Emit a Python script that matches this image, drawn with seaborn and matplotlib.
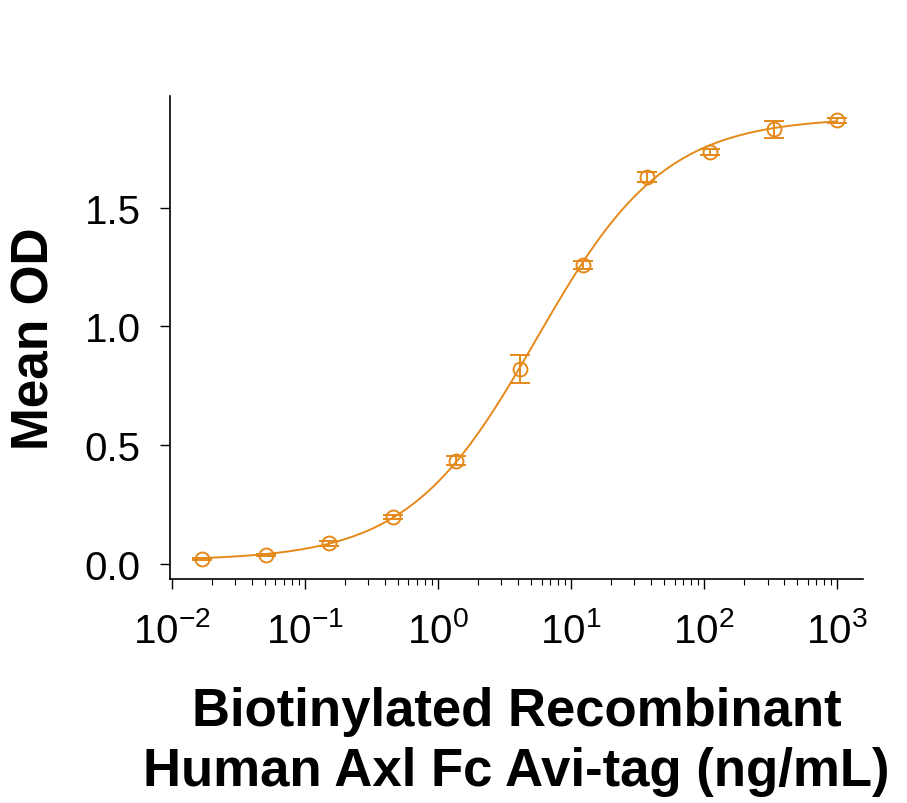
import numpy as np
import pandas as pd
import matplotlib
matplotlib.use('Agg')
import matplotlib.pyplot as plt
import matplotlib.ticker as mticker
import seaborn as sns

# concentrations (ng/mL), mean OD and error
conc = [0.0169, 0.0508, 0.152, 0.457, 1.37, 4.12, 12.3, 37.0, 111.0, 333.0, 1000.0]
mean_od = [0.020, 0.038, 0.087, 0.197, 0.435, 0.820, 1.258, 1.629, 1.735, 1.829, 1.868]
err_od = [0.005, 0.005, 0.010, 0.008, 0.020, 0.058, 0.018, 0.020, 0.012, 0.035, 0.010]

x_ticks = [1e-2, 1e-1, 1e0, 1e1, 1e2, 1e3]
y_ticks = [0.0, 0.5, 1.0, 1.5]
color = '#E5891B'

df = pd.DataFrame({'conc': conc, 'od': mean_od, 'err': err_od})


def four_pl(x, bottom, top, ec50, hill):
    return bottom + (top - bottom) / (1 + (ec50 / x) ** hill)


# crude grid fit of a 4PL to the points
lx = np.array(conc)
ly = np.array(mean_od)
best = None
for bottom in np.linspace(0.0, 0.03, 7):
    for top in np.linspace(1.84, 1.96, 13):
        for ec50 in np.linspace(4.0, 8.0, 41):
            for hill in np.linspace(0.8, 1.2, 41):
                r = np.sum((four_pl(lx, bottom, top, ec50, hill) - ly) ** 2)
                if best is None or r < best[0]:
                    best = (r, bottom, top, ec50, hill)
_, b0, t0, e0, h0 = best
xs = np.logspace(np.log10(conc[0]), np.log10(conc[-1]), 300)
fit = pd.DataFrame({'conc': xs, 'od': four_pl(xs, b0, t0, e0, h0)})

sns.set_style('white')
plt.rcParams['font.family'] = ['Liberation Sans', 'DejaVu Sans']
plt.rcParams['mathtext.fontset'] = 'custom'
plt.rcParams['mathtext.rm'] = 'Liberation Sans'

fig = plt.figure(figsize=(9.07, 8.04), dpi=100)
ax = fig.add_axes([0.1874, 0.2786, 0.7641, 0.6008])

sns.lineplot(data=fit, x='conc', y='od', ax=ax, color=color, linewidth=1.4)
ax.errorbar(df['conc'], df['od'], yerr=df['err'], fmt='o', mfc='none',
            mec=color, ecolor=color, markersize=10, markeredgewidth=1.4,
            elinewidth=1.4, capsize=7, capthick=1.4)

ax.set_xscale('log')
ax.set_xlim(10 ** -2.015, 10 ** 3.195)
ax.set_ylim(-0.063, 1.97)
ax.set_xticks(x_ticks)
ax.xaxis.set_major_formatter(mticker.FuncFormatter(
    lambda v, p: r'$\mathregular{10^{%d}}$' % int(round(np.log10(v)))))
ax.xaxis.set_minor_locator(mticker.LogLocator(base=10, subs=np.arange(2, 10), numticks=20))
ax.xaxis.set_minor_formatter(mticker.NullFormatter())
ax.set_yticks(y_ticks)
ax.set_yticklabels(['%.1f' % v for v in y_ticks])

for s in ['top', 'right']:
    ax.spines[s].set_visible(False)
for s in ['left', 'bottom']:
    ax.spines[s].set_color('black')
    ax.spines[s].set_linewidth(1.2)

ax.tick_params(axis='both', which='major', direction='out', length=7, width=1.0,
               color='black', labelsize=29, labelcolor='black', bottom=True, left=True)
ax.tick_params(axis='x', which='minor', direction='out', length=4, width=0.8,
               color='black', bottom=True)
ax.tick_params(axis='x', which='major', pad=16)
ax.tick_params(axis='y', which='major', pad=14)

ax.set_xlabel('Biotinylated Recombinant\nHuman Axl Fc Avi-tag (ng/mL)',
              fontsize=38, fontweight='bold', labelpad=26, linespacing=1.25,
              color='black')
ax.set_ylabel('Mean OD', fontsize=37, fontweight='bold', labelpad=18,
              color='black')

fig.savefig('out.png', dpi=100)
